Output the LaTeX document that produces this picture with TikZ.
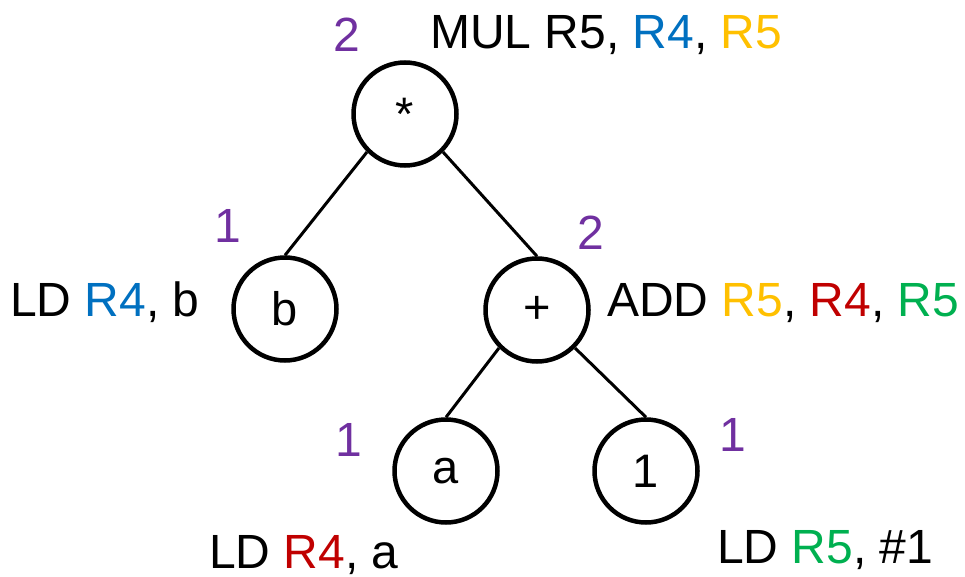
\documentclass[tikz,border=0pt]{standalone}
\usepackage{fontspec}
\setmainfont{Liberation Sans}
\definecolor{numpurple}{HTML}{7030A0}
\definecolor{regblue}{HTML}{0070C0}
\definecolor{reggold}{HTML}{FFC000}
\definecolor{regred}{HTML}{C00000}
\definecolor{reggreen}{HTML}{00B050}
\begin{document}
\begin{tikzpicture}[x=1pt, y=-1pt,
        opnode/.style={circle, draw=black, line width=4.5pt, minimum size=103pt, inner sep=0pt, font=\fontsize{47}{56}\selectfont},
        treeedge/.style={black, line width=3pt},
        codetext/.style={anchor=base west, inner sep=0pt, font=\fontsize{48}{57}\selectfont},
        needed/.style={text=numpurple, inner sep=0pt, font=\fontsize{48}{57}\selectfont}]
            \useasboundingbox (0,0) rectangle (965,577);

            % tree
            \node[opnode] (star) at (405,114) {*};
            \node[opnode] (b) at (285,309) {b};
            \node[opnode] (plus) at (537,310) {+};
            \node[opnode] (a) at (446,471) {a};
            \node[opnode] (one) at (646,471) {1};

            \draw[treeedge] (star.-135) -- (b.north);
            \draw[treeedge] (star.-45) -- (plus.north);
            \draw[treeedge] (plus.-135) -- (a.north);
            \draw[treeedge] (plus.-45) -- (one.north);

            % register counts
            \node[needed] (nstar) at (347,35) {2};
            \node[needed] (nb) at (228,226) {1};
            \node[needed] (nplus) at (591,233) {2};
            \node[needed] (na) at (349,440) {1};
            \node[needed] (none) at (733,435) {1};

            % code
            \node[codetext] (cstar) at (430,49) {MUL R5, {\color{regblue}R4}, {\color{reggold}R5}};
            \node[codetext] (cb) at (10,316) {LD {\color{regblue}R4}, b};
            \node[codetext] (cplus) at (607,316) {ADD {\color{reggold}R5}, {\color{regred}R4}, {\color{reggreen}R5}};
            \node[codetext] (ca) at (209,568) {LD {\color{regred}R4}, a};
            \node[codetext] (cone) at (717,563) {LD {\color{reggreen}R5}, \#1};
\end{tikzpicture}
\end{document}
